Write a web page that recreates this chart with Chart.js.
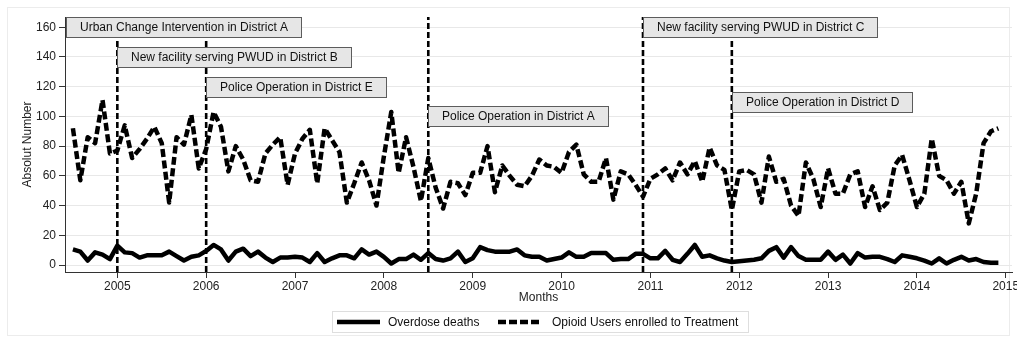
<!DOCTYPE html>
<html>
<head>
<meta charset="utf-8">
<script src="https://cdn.jsdelivr.net/npm/chart.js@4.4.1/dist/chart.umd.min.js"></script>
<style>
  html, body { margin: 0; padding: 0; background: #fff; }
  canvas { display: block; }
</style>
</head>
<body>
<canvas id="chart" width="1017" height="342"></canvas>
<script>
// Monthly series, July 2004 to December 2014
const startYear = 2004;
const startMonth = 7;

const overdoseDeaths = [
  10.5, 9, 3, 8.5, 7, 4, 13, 8.5, 8, 5, 6.5, 6.5,
  6.5, 9, 6, 3, 5.5, 6.5, 9.5, 13.5, 10.5, 3, 9, 11,
  6, 9, 5, 2, 5, 5, 5.5, 5, 2, 8, 2, 4.5,
  6.5, 6.5, 4.5, 10.5, 7, 9, 5.5, 1, 4, 4, 7, 3.5,
  8, 4, 3, 4.5, 9, 2, 4.5, 12, 10, 9, 9, 9,
  10.5, 6.5, 5.5, 5.5, 3, 4, 5, 8.5, 5.5, 5.5, 8, 8,
  8, 3.5, 4, 4, 7.5, 7.5, 4.5, 4.5, 9.5, 3.5, 2, 7.5,
  13.5, 5.5, 6.5, 4.5, 3, 2, 2.5, 3, 3.5, 4.5, 9.5, 12,
  5, 12, 6, 3.5, 3.5, 3.5, 9, 3.5, 7, 1, 8, 5,
  5.5, 5.5, 4, 2, 6.5, 5.5, 4.5, 3, 1, 4.5, 1, 3.5,
  5.5, 3, 4, 2, 1.5, 1.5
];

const treatmentEnrolled = [
  92, 57, 86, 82, 111, 75, 77, 94, 72, 78, 85, 93,
  82, 42, 86, 81, 101, 65, 78, 103, 93, 63, 80, 71,
  57, 56, 75, 81, 86, 54, 75, 85, 91, 55, 92, 84,
  76, 42, 55, 69, 57, 40, 73, 103, 62, 86, 66, 43,
  72, 52, 38, 56, 55, 47, 62, 62, 80, 49, 67, 60,
  54, 53, 60, 71, 67, 66, 62, 76, 81, 61, 56, 56,
  72, 44, 63, 61, 54, 46, 58, 61, 65, 57, 69, 61,
  70, 56, 79, 67, 64, 37, 63, 64, 61, 42, 73, 56,
  58, 40, 33, 69, 58, 39, 65, 48, 48, 61, 63, 39,
  53, 37, 42, 67, 74, 57, 39, 48, 85, 60, 57, 48,
  56, 28, 48, 82, 90, 92
];

const yearTicks = [2005, 2006, 2007, 2008, 2009, 2010, 2011, 2012, 2013, 2014, 2015];
const valueTicks = [0, 20, 40, 60, 80, 100, 120, 140, 160];

// Interventions: start month (null = before the series), label and label height
const eventMonths = [null, '2005-01', '2006-01', '2008-07', '2010-12', '2011-12'];
const eventLabels = [
  'Urban Change Intervention in District A',
  'New facility serving PWUD in District B',
  'Police Operation in District E',
  'Police Operation in District A',
  'New facility serving PWUD in District C',
  'Police Operation in District D'
];
const eventLabelLevels = [160, 140, 120, 100, 160, 110];

const seriesNames = ['Overdose deaths', 'Opioid Users enrolled to Treatment'];

const FONT = '"Liberation Sans", Arial, Helvetica, sans-serif';

function monthToYear(str) {
  const [y, m] = str.split('-').map(Number);
  return y + (m - 1) / 12;
}
function seriesPoints(values) {
  return values.map((v, i) => ({ x: startYear + (startMonth - 1 + i) / 12, y: v }));
}

const decorations = {
  id: 'decorations',
  beforeDraw(chart) {
    const ctx = chart.ctx;
    ctx.save();
    ctx.fillStyle = '#ffffff';
    ctx.fillRect(0, 0, chart.width, chart.height);
    ctx.strokeStyle = '#ececec';
    ctx.lineWidth = 1;
    ctx.strokeRect(7.5, 7.5, chart.width - 15, chart.height - 14);
    ctx.restore();
  },
  beforeDatasetsDraw(chart) {
    const { ctx, chartArea: a, scales: { x } } = chart;
    ctx.save();
    ctx.strokeStyle = '#000';
    ctx.lineWidth = 2.6;
    ctx.setLineDash([6, 3]);
    eventMonths.forEach(m => {
      if (m === null) return;
      const px = x.getPixelForValue(monthToYear(m));
      ctx.beginPath();
      ctx.moveTo(px, a.bottom);
      ctx.lineTo(px, a.top);
      ctx.stroke();
    });
    ctx.restore();
  },
  afterDatasetsDraw(chart) {
    const { ctx, chartArea: a, scales: { x, y } } = chart;
    ctx.save();
    ctx.font = '12px ' + FONT;
    ctx.textBaseline = 'middle';
    eventLabels.forEach((t, k) => {
      const left = Math.round(eventMonths[k] === null ? a.left + 1 : x.getPixelForValue(monthToYear(eventMonths[k])));
      const cy = Math.round(y.getPixelForValue(eventLabelLevels[k]));
      const w = Math.round(ctx.measureText(t).width + 27);
      const h = 20;
      ctx.fillStyle = '#e6e6e6';
      ctx.fillRect(left, cy - h / 2, w, h);
      ctx.strokeStyle = '#5c5c5c';
      ctx.lineWidth = 1;
      ctx.strokeRect(left + 0.5, cy - h / 2 + 0.5, w, h);
      ctx.fillStyle = '#111';
      ctx.fillText(t, left + 14, cy + 1);
    });
    ctx.restore();
  },
  afterDraw(chart) {
    const ctx = chart.ctx;
    ctx.save();
    // legend frame
    ctx.fillStyle = '#fff';
    ctx.fillRect(332, 311, 416, 21);
    ctx.strokeStyle = '#dedede';
    ctx.lineWidth = 1;
    ctx.strokeRect(332.5, 311.5, 416, 21);
    const cy = 322;
    ctx.strokeStyle = '#000';
    ctx.lineWidth = 4.5;
    ctx.setLineDash([]);
    ctx.beginPath(); ctx.moveTo(337, cy); ctx.lineTo(380, cy); ctx.stroke();
    ctx.setLineDash([8, 3]);
    ctx.beginPath(); ctx.moveTo(498, cy); ctx.lineTo(541, cy); ctx.stroke();
    ctx.setLineDash([]);
    ctx.fillStyle = '#111';
    ctx.font = '12px ' + FONT;
    ctx.textBaseline = 'middle';
    ctx.fillText(seriesNames[0], 388, cy + 1);
    ctx.fillText(seriesNames[1], 552, cy + 1);
    ctx.restore();
  }
};

new Chart(document.getElementById('chart'), {
  type: 'line',
  data: {
    datasets: [
      {
        label: seriesNames[0],
        data: seriesPoints(overdoseDeaths),
        borderColor: '#000',
        borderWidth: 4.5,
        pointRadius: 0,
        tension: 0,
        borderJoinStyle: 'round'
      },
      {
        label: seriesNames[1],
        data: seriesPoints(treatmentEnrolled),
        borderColor: '#000',
        borderWidth: 4.5,
        borderDash: [8, 3.5],
        borderJoinStyle: 'round',
        pointRadius: 0,
        tension: 0
      }
    ]
  },
  options: {
    responsive: false,
    animation: false,
    devicePixelRatio: 1,
    layout: { padding: { left: 0, right: 5, top: 17, bottom: 0 } },
    plugins: { legend: { display: false }, tooltip: { enabled: false } },
    scales: {
      x: {
        type: 'linear',
        min: 2004.411,
        max: 2015.07,
        afterBuildTicks: s => { s.ticks = yearTicks.map(v => ({ value: v })); },
        afterFit: s => { s.height = 70; s.paddingLeft = 0; s.paddingRight = 0; },
        ticks: {
          color: '#222',
          font: { family: FONT, size: 12 },
          padding: 1,
          maxRotation: 0,
          autoSkip: false,
          callback: v => String(v)
        },
        grid: { drawOnChartArea: false, drawTicks: true, tickLength: 6, tickColor: '#333', tickWidth: 1 },
        border: { display: true, color: '#333', width: 1 },
        title: {
          display: true,
          text: 'Months',
          color: '#222',
          font: { family: FONT, size: 12 },
          padding: { top: 0, bottom: 37.3 }
        }
      },
      y: {
        type: 'linear',
        min: -4.71,
        max: 166.9,
        afterBuildTicks: s => { s.ticks = valueTicks.map(v => ({ value: v })); },
        afterFit: s => { s.width = 65; s.paddingTop = 0; s.paddingBottom = 0; },
        ticks: {
          color: '#222',
          font: { family: FONT, size: 12 },
          padding: 3,
          autoSkip: false
        },
        grid: { color: '#e8e8e8', lineWidth: 1, drawTicks: true, tickLength: 6, tickColor: '#333', tickWidth: 1 },
        border: { display: true, color: '#333', width: 1 },
        title: {
          display: true,
          text: 'Absolut Number',
          color: '#222',
          font: { family: FONT, size: 12 },
          padding: { top: 20.5, bottom: 0 }
        }
      }
    }
  },
  plugins: [decorations]
});
</script>
</body>
</html>
